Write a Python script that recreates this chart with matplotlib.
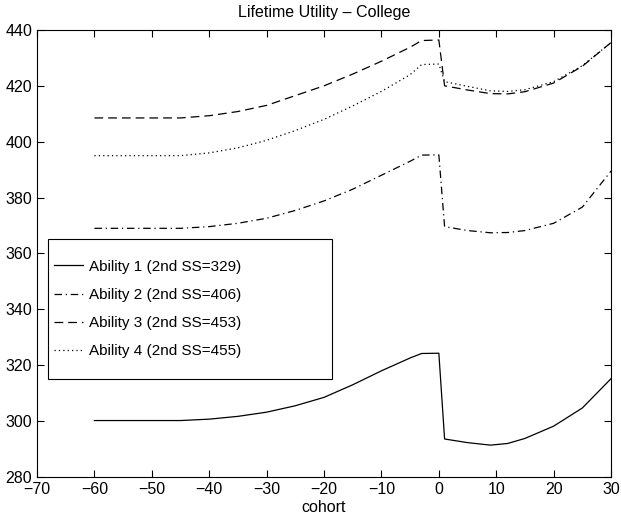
import matplotlib
matplotlib.use("Agg")
import matplotlib.pyplot as plt
from matplotlib.patches import Rectangle

plt.rcParams['font.family'] = ['Liberation Sans', 'DejaVu Sans']

cohort = [-60, -45, -40, -35, -30, -25, -20, -15, -10, -5, -3, 0, 1, 5, 9, 12, 15, 20, 25, 30]
ability1 = [300.2, 300.2, 300.7, 301.7, 303.2, 305.5, 308.5, 313.0, 318.0, 322.6, 324.2, 324.3,
            293.6, 292.3, 291.4, 292.0, 293.8, 298.2, 304.7, 315.2]
ability2 = [369.0, 369.0, 369.6, 370.8, 372.6, 375.4, 378.8, 383.0, 388.0, 393.0, 395.2, 395.3,
            369.6, 368.2, 367.4, 367.5, 368.2, 370.8, 376.6, 389.5]
ability3 = [408.5, 408.5, 409.3, 410.8, 413.0, 416.5, 420.0, 424.2, 428.8, 433.8, 436.2, 436.4,
            420.0, 418.5, 417.2, 417.1, 417.9, 421.0, 427.0, 435.5]
ability4 = [395.0, 395.0, 396.0, 397.8, 400.5, 404.0, 408.0, 412.8, 418.0, 424.0, 427.6, 427.8,
            421.5, 419.8, 418.2, 418.0, 418.6, 421.5, 427.2, 435.5]
labels = ['Ability 1 (2nd SS=329)', 'Ability 2 (2nd SS=406)',
          'Ability 3 (2nd SS=453)', 'Ability 4 (2nd SS=455)']
xticks = [-70, -60, -50, -40, -30, -20, -10, 0, 10, 20, 30]
yticks = [280, 300, 320, 340, 360, 380, 400, 420, 440]

fig = plt.figure(figsize=(6.21, 5.16), dpi=100)
ax = fig.add_axes([0.0596, 0.0756, 0.9244, 0.8664])

lw = 0.9
ax.plot(cohort, ability1, color='black', linestyle='-', linewidth=lw, label=labels[0])
ax.plot(cohort, ability2, color='black', linestyle=(0, (6, 3, 1, 3)), linewidth=lw, label=labels[1])
ax.plot(cohort, ability3, color='black', linestyle=(0, (7, 4)), linewidth=lw, label=labels[2])
ax.plot(cohort, ability4, color='black', linestyle=(0, (1, 2.5)), linewidth=lw, label=labels[3])

ax.set_xlim(-70, 30)
ax.set_ylim(280, 440)
ax.set_xticks(xticks)
ax.set_yticks(yticks)
ax.tick_params(direction='in', top=True, right=True, length=5, width=0.8, labelsize=11.5)
for s in ax.spines.values():
    s.set_linewidth(0.8)
ax.set_xlabel('cohort', fontsize=11.5, labelpad=2)
ax.set_title('Lifetime Utility \u2013 College', fontsize=11.5, pad=9)

# legend frame box (axes fraction)
bx0, bx1, by0, by1 = 0.019, 0.514, 0.219, 0.532
frame = Rectangle((bx0, by0), bx1 - bx0, by1 - by0, transform=ax.transAxes,
                  facecolor='white', edgecolor='black', linewidth=0.8, zorder=4)
ax.add_patch(frame)
leg = ax.legend(loc='center left', bbox_to_anchor=(bx0, (by0 + by1) / 2),
                fontsize=11, frameon=False,
                handlelength=1.9, handletextpad=0.4, borderaxespad=0, labelspacing=0.93,
                borderpad=0.4)
leg.set_zorder(5)

fig.savefig('out.png', dpi=100)
